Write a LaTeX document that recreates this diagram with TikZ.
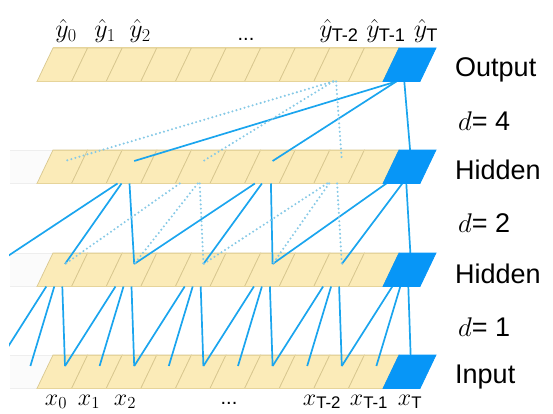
\RequirePackage{fix-cm}
\documentclass[tikz,border=0pt]{standalone}
\usepackage{amsmath}
\usepackage{fontspec}
\setmainfont{Liberation Sans}
\usetikzlibrary{calc}
\definecolor{cellfill}{HTML}{FBEBB8}
\definecolor{cellline}{HTML}{E6D49A}
\definecolor{celldiv}{HTML}{D8C78F}
\definecolor{bluecell}{HTML}{0796F7}
\definecolor{linkblue}{HTML}{1AA5EE}
\definecolor{dotblue}{HTML}{86C9E6}
\tikzset{
  link/.style={draw=linkblue, line width=1.7pt},
  dotlink/.style={draw=dotblue, line width=2.3pt, line cap=round, dash pattern=on 0pt off 4.2pt},
  ycell/.style={fill=cellfill, draw=celldiv, line width=0.7pt},
  bcell/.style={fill=bluecell, draw=bluecell, line width=0.7pt},
  fadebox/.style={fill=gray!3},
  fadeline/.style={draw=gray!13, line width=0.7pt},
  side/.style={anchor=base west, inner sep=0pt, font=\fontsize{27}{30}\selectfont},
  ylab/.style={anchor=base, inner sep=0pt, font=\fontsize{26}{30}\selectfont},
  xlab/.style={anchor=base, inner sep=0pt, font=\fontsize{24}{28}\selectfont},
  dots/.style={anchor=base, inner sep=0pt, font=\fontsize{20}{24}\selectfont},
}
\begin{document}
\begin{tikzpicture}[x=1pt, y=-1pt]
\useasboundingbox (0,0) rectangle (553,414);
% layers (yellow part) and named points
\foreach \L/\ty/\fade in {o/48/0, h1/150/1, h2/253/1, in/355/1} {
  \pgfmathsetmacro\by{\ty+33.5}
  \ifnum\fade=1
    \fill[fadebox] (10,\ty) -- (53,\ty) -- (37,\by) -- (10,\by) -- cycle;
    \draw[fadeline] (10,\ty) -- (53,\ty) (10,\by) -- (37,\by);
  \fi
  \foreach \i in {0,...,9} {
    \draw[ycell] ({53+34.6*\i},\ty) -- ({53+34.6*(\i+1)},\ty) -- ({37+34.6*(\i+1)},\by) -- ({37+34.6*\i},\by) -- cycle;
  }
  \draw[cellline, line width=1pt] (53,\ty) -- (399,\ty) (37,\by) -- (383,\by);
  \foreach \i in {-4,...,10} {
    \coordinate (\L-n\i) at ({65+34.6*\i},{\ty+11});
    \coordinate (\L-b\i) at ({54.3+34.6*\i},\by);
  }
}
\begin{scope}
\clip (9,0) rectangle (553,414);
% d = 4 : output -> hidden 1
\draw[link] ($(o-b10)+(-4,0)$) -- (h1-n2);
\draw[link] ($(o-b10)+(-4,0)$) -- (h1-n6);
\draw[link] ($(o-b10)+(4,0)$) -- (h1-n10);
\draw[dotlink] ($(o-b8)+(2,0)$) -- (h1-n0);
\draw[dotlink] ($(o-b8)+(2,0)$) -- (h1-n4);
\draw[dotlink] ($(o-b8)+(5,0)$) -- (h1-n8);
% d = 2 : hidden 1 -> hidden 2
\foreach \j/\oa/\ob/\oc in {2/-6/-2/6, 6/-7/0/9, 10/-14/2/6} {
  \pgfmathtruncatemacro\ja{\j-2}
  \pgfmathtruncatemacro\jb{\j-4}
  \draw[link] ($(h1-b\j)+(\oa,0)$) -- (h2-n\jb);
  \draw[link] ($(h1-b\j)+(\ob,0)$) -- (h2-n\ja);
  \draw[link] ($(h1-b\j)+(\oc,0)$) -- (h2-n\j);
}
\foreach \j/\oa/\ob/\oc in {4/-13/5/7, 8/-4/-2/6} {
  \pgfmathtruncatemacro\ja{\j-2}
  \pgfmathtruncatemacro\jb{\j-4}
  \draw[dotlink] ($(h1-b\j)+(\oa,0)$) -- (h2-n\jb);
  \draw[dotlink] ($(h1-b\j)+(\ob,0)$) -- (h2-n\ja);
  \draw[dotlink] ($(h1-b\j)+(\oc,0)$) -- (h2-n\j);
}
% d = 1 : hidden 2 -> input
\foreach \j in {-2,0,...,10} {
  \pgfmathtruncatemacro\ja{\j-1}
  \pgfmathtruncatemacro\jb{\j-2}
  \draw[link] ($(h2-b\j)+(-8,0)$) -- (in-n\jb);
  \draw[link] ($(h2-b\j)+(0,0)$) -- (in-n\ja);
  \draw[link] ($(h2-b\j)+(8,0)$) -- (in-n\j);
}
\end{scope}
% blue cells on top
\foreach \L/\ty in {o/48, h1/150, h2/253, in/355} {
  \pgfmathsetmacro\by{\ty+33.5}
  \draw[bcell] (399,\ty) -- (436,\ty) -- (420,\by) -- (383,\by) -- cycle;
}
% top labels
\node[ylab] (y0) at (66,38) {$\hat{y}_{0}$};
\node[ylab] (y1) at (105,38) {$\hat{y}_{1}$};
\node[ylab] (y2) at (140,38) {$\hat{y}_{2}$};
\node[dots] (ydots) at (246,41) {...};
\node[ylab] (yT2) at (339,38) {$\hat{y}_{\text{T-2}}$};
\node[ylab] (yT1) at (386,38) {$\hat{y}_{\text{T-1}}$};
\node[ylab] (yT) at (426,38) {$\hat{y}_{\text{T}}$};
% bottom labels
\node[xlab] (x0) at (56,405) {$x_{0}$};
\node[xlab] (x1) at (89,405) {$x_{1}$};
\node[xlab] (x2) at (125,405) {$x_{2}$};
\node[dots] (xdots) at (229,404) {...};
\node[xlab] (xT2) at (322,405) {$x_{\text{T-2}}$};
\node[xlab] (xT1) at (369,405) {$x_{\text{T-1}}$};
\node[xlab] (xT) at (410,405) {$x_{\text{T}}$};
% side labels
\node[side] (lout) at (455,77) {Output};
\node[side] (ld4) at (458,131) {$d$= 4};
\node[side] (lh1) at (455,179) {Hidden};
\node[side] (ld2) at (458,232) {$d$= 2};
\node[side] (lh2) at (455,283) {Hidden};
\node[side] (ld1) at (458,336) {$d$= 1};
\node[side] (lin) at (455,383) {Input};
\end{tikzpicture}
\end{document}
